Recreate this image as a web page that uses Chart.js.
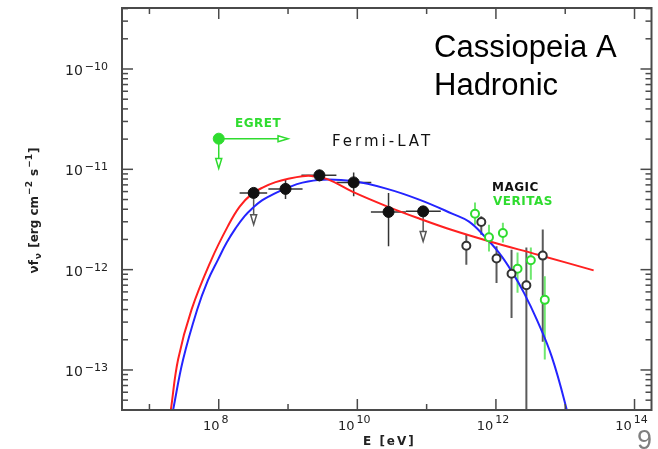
<!DOCTYPE html>
<html>
<head>
<meta charset="utf-8">
<title>Cassiopeia A - Hadronic</title>
<script src="https://cdn.jsdelivr.net/npm/chart.js@4/dist/chart.umd.min.js"></script>
<style>
  html, body { margin: 0; padding: 0; background: #fff; }
  #wrap { position: relative; width: 658px; height: 449px; }
</style>
</head>
<body>
<div id="wrap"><canvas id="sed"></canvas></div>
<script>
// Energies in eV, fluxes as nuF_nu in erg cm^-2 s^-1

// Fermi-LAT points (first and last are upper limits)
const fermiE     = [3.19e8, 9.2e8, 2.84e9, 8.85e9, 2.82e10, 8.91e10];
const fermiF     = [5.82e-12, 6.38e-12, 8.71e-12, 7.41e-12, 3.76e-12, 3.81e-12];
const fermiElo   = [2.0e8, 5.2e8, 1.56e9, 4.99e9, 1.57e10, 5.02e10];
const fermiEhi   = [5.0e8, 1.62e9, 4.99e9, 1.59e10, 5.02e10, 1.60e11];
const fermiFlo   = [null, 5.07e-12, 7.59e-12, 5.38e-12, 1.71e-12, null];
const fermiFhi   = [6.4e-12, 8.03e-12, 9.93e-12, 9.27e-12, 5.82e-12, null];
const fermiLimit = [2.81e-12, null, null, null, null, 1.91e-12];

// MAGIC
const magicE   = [3.74e11, 6.15e11, 1.02e12, 1.68e12, 2.75e12, 4.74e12];
const magicF   = [1.73e-12, 2.99e-12, 1.29e-12, 9.1e-13, 6.98e-13, 1.38e-12];
const magicFlo = [1.12e-12, 2.23e-12, 7.36e-13, 3.30e-13, 1e-14, 1.91e-13];
const magicFhi = [2.23e-12, 3.40e-12, 1.71e-12, 1.58e-12, 1.66e-12, 2.51e-12];

// VERITAS
const veritasE   = [4.99e11, 7.94e11, 1.26e12, 2.05e12, 3.19e12, 5.07e12];
const veritasF   = [3.61e-12, 2.10e-12, 2.32e-12, 1.02e-12, 1.24e-12, 5.0e-13];
const veritasFlo = [2.81e-12, 1.52e-12, 1.86e-12, 5.90e-13, 7.94e-13, 1.27e-13];
const veritasFhi = [4.66e-12, 2.81e-12, 2.94e-12, 1.48e-12, 1.66e-12, 8.58e-13];

// EGRET limit
const egretE   = [1.0e8];
const egretF   = [2.02e-11];
const egretEhi = [1.0e9];
const egretFlo = [1.02e-11];

// pion-decay model curves
const redE  = [1.85e7, 2.04e7, 2.59e7, 4.05e7, 7.85e7, 1.35e8, 2.005e8, 2.985e8, 4.44e8, 6.61e8,
               1.051e9, 1.617e9, 2.179e9, 3.70e9, 8.47e9, 2.614e10, 7.80e10, 2.33e11, 7.93e11,
               4.16e12, 2.57e13];
const redF  = [2.54e-14, 4.02e-14, 1.27e-13, 3.99e-13, 1.26e-12, 2.70e-12, 4.25e-12, 5.66e-12, 6.65e-12, 7.46e-12,
               8.11e-12, 8.55e-12, 8.59e-12, 7.99e-12, 5.99e-12, 4.30e-12, 3.23e-12, 2.48e-12, 1.92e-12,
               1.40e-12, 9.84e-13];
const blueE = [1.94e7, 2.20e7, 3.06e7, 4.88e7, 6.95e7, 9.77e7, 1.304e8, 1.756e8, 2.366e8, 3.19e8,
               4.155e8, 5.42e8, 7.06e8, 9.51e8, 1.617e9, 3.136e9, 8.47e9, 2.614e10, 7.80e10, 2.33e11,
               4.09e11, 6.72e11, 1.105e12, 1.699e12, 2.53e12, 3.89e12, 6.39e12, 1.051e13, 1.20e13];
const blueF = [2.54e-14, 4.02e-14, 1.27e-13, 3.99e-13, 7.77e-13, 1.26e-12, 1.86e-12, 2.59e-12, 3.42e-12, 4.20e-12,
               4.87e-12, 5.40e-12, 5.93e-12, 6.50e-12, 7.37e-12, 7.89e-12, 7.63e-12, 6.42e-12, 4.99e-12, 3.62e-12,
               3.01e-12, 2.18e-12, 1.477e-12, 9.55e-13, 5.90e-13, 3.17e-13, 1.357e-13, 4.02e-14, 2.54e-14];

// axis labels
const xTickExp = [8, 10, 12, 14];
const yTickExp = [-10, -11, -12, -13];

const GREEN = '#2fdc2f';
const pts = (xs, ys) => xs.map((v, i) => ({ x: v, y: ys[i] }));

function seg(ctx, x0, y0, x1, y1) {
  ctx.beginPath();
  ctx.moveTo(x0, y0);
  ctx.lineTo(x1, y1);
  ctx.stroke();
}

// line with an open triangular head at (x1, y1)
function arrow(ctx, x0, y0, x1, y1) {
  const len = Math.hypot(x1 - x0, y1 - y0);
  const ux = (x1 - x0) / len, uy = (y1 - y0) / len;
  const bx = x1 - ux * 10, by = y1 - uy * 10;
  seg(ctx, x0, y0, bx, by);
  ctx.beginPath();
  ctx.moveTo(x1, y1);
  ctx.lineTo(bx - uy * 3, by + ux * 3);
  ctx.lineTo(bx + uy * 3, by - ux * 3);
  ctx.closePath();
  ctx.stroke();
}

// "10" with a raised exponent, drawn on baseline y
function drawPow(ctx, exp, x, y, align, baseSize, expSize, rise) {
  const e = String(exp).replace('-', '\u2212');
  ctx.font = baseSize + 'px "DejaVu Sans"';
  const wb = ctx.measureText('10').width;
  ctx.font = expSize + 'px "DejaVu Sans"';
  const we = ctx.measureText(e).width;
  const gap = 2;
  const total = wb + gap + we;
  const left = align === 'right' ? x - total : x - total / 2;
  ctx.textAlign = 'left';
  ctx.textBaseline = 'alphabetic';
  ctx.font = baseSize + 'px "DejaVu Sans"';
  ctx.fillText('10', left, y);
  ctx.font = expSize + 'px "DejaVu Sans"';
  ctx.fillText(e, left + wb + gap, y - rise);
}

const errorBars = {
  id: 'errorBars',
  beforeDatasetsDraw(chart) {
    const { ctx, chartArea: a, scales: { x, y } } = chart;
    const X = v => x.getPixelForValue(v), Y = v => y.getPixelForValue(v);
    ctx.save();
    ctx.beginPath();
    ctx.rect(a.left, a.top, a.width, a.height);
    ctx.clip();

    ctx.strokeStyle = '#5a5a5a';
    ctx.lineWidth = 2;
    magicE.forEach((e, i) => seg(ctx, X(e), Y(magicFlo[i]), X(e), Y(magicFhi[i])));

    ctx.strokeStyle = '#6fe86f';
    veritasE.forEach((e, i) => seg(ctx, X(e), Y(veritasFlo[i]), X(e), Y(veritasFhi[i])));

    ctx.strokeStyle = '#333';
    ctx.lineWidth = 1.5;
    fermiE.forEach((e, i) => {
      const px = X(e), py = Y(fermiF[i]);
      seg(ctx, X(fermiElo[i]), py, X(fermiEhi[i]), py);
      if (fermiFhi[i] !== null) seg(ctx, px, py, px, Y(fermiFhi[i]));
      if (fermiFlo[i] !== null) seg(ctx, px, py, px, Y(fermiFlo[i]));
    });
    ctx.strokeStyle = '#555';
    fermiE.forEach((e, i) => {
      if (fermiLimit[i] !== null) arrow(ctx, X(e), Y(fermiF[i]), X(e), Y(fermiLimit[i]));
    });

    ctx.strokeStyle = GREEN;
    egretE.forEach((e, i) => {
      arrow(ctx, X(e), Y(egretF[i]), X(egretEhi[i]), Y(egretF[i]));
      arrow(ctx, X(e), Y(egretF[i]), X(e), Y(egretFlo[i]));
    });
    ctx.restore();
  }
};

const frame = {
  id: 'frame',
  afterDraw(chart) {
    const { ctx, chartArea: a, scales: { x, y } } = chart;
    ctx.save();
    ctx.strokeStyle = '#4a4a4a';
    ctx.lineWidth = 1.5;

    // one tick per decade on bottom and top, longer on even powers
    for (let d = 7; d <= 14; d++) {
      const px = x.getPixelForValue(Math.pow(10, d));
      const len = d % 2 === 0 ? 11 : 6;
      seg(ctx, px, a.bottom, px, a.bottom - len);
      seg(ctx, px, a.top, px, a.top + len);
    }
    // logarithmic ticks on left and right
    for (let d = -14; d <= -10; d++) {
      for (let m = 1; m <= 9; m++) {
        const v = m * Math.pow(10, d);
        if (v < y.min || v > y.max) continue;
        const py = y.getPixelForValue(v);
        const len = m === 1 ? 11 : 6;
        seg(ctx, a.left, py, a.left + len, py);
        seg(ctx, a.right, py, a.right - len, py);
      }
    }
    ctx.lineWidth = 2;
    ctx.strokeRect(a.left, a.top, a.right - a.left, a.bottom - a.top);

    // tick labels
    ctx.fillStyle = '#222';
    yTickExp.forEach(d => {
      const py = y.getPixelForValue(Math.pow(10, d));
      drawPow(ctx, d, 108, py + 6, 'right', 14, 11, 5);
    });
    xTickExp.forEach(d => {
      const px = x.getPixelForValue(Math.pow(10, d));
      drawPow(ctx, d, px - 3, 430, 'center', 13, 11, 7);
    });

    // axis titles
    ctx.textAlign = 'left';
    ctx.textBaseline = 'alphabetic';
    ctx.font = 'bold 12px "DejaVu Sans"';
    ctx.letterSpacing = '2px';
    ctx.fillText('E [eV]', 363, 445);
    ctx.letterSpacing = '0px';

    const parts = [
      { t: '\u03BDf', s: 12, dy: 0 },
      { t: '\u03BD', s: 9, dy: 3 },
      { t: ' [erg cm', s: 12, dy: 0 },
      { t: '\u22122', s: 9, dy: -6 },
      { t: ' s', s: 12, dy: 0 },
      { t: '\u22121', s: 9, dy: -6 },
      { t: ']', s: 12, dy: 0 }
    ];
    let total = 0;
    parts.forEach(p => {
      ctx.font = 'bold ' + p.s + 'px "DejaVu Sans"';
      p.w = ctx.measureText(p.t).width + 1;
      total += p.w;
    });
    ctx.save();
    ctx.translate(38, 210);
    ctx.rotate(-Math.PI / 2);
    let cx = -total / 2;
    parts.forEach(p => {
      ctx.font = 'bold ' + p.s + 'px "DejaVu Sans"';
      ctx.fillText(p.t, cx, p.dy);
      cx += p.w;
    });
    ctx.restore();

    // instrument labels
    ctx.font = '15px "DejaVu Sans"';
    ctx.letterSpacing = '3px';
    ctx.fillStyle = '#111';
    ctx.fillText('Fermi-LAT', 332, 146);
    ctx.font = 'bold 12px "DejaVu Sans"';
    ctx.letterSpacing = '0.5px';
    ctx.fillStyle = GREEN;
    ctx.fillText('EGRET', 235, 127);
    ctx.fillStyle = '#111';
    ctx.fillText('MAGIC', 492, 191);
    ctx.fillStyle = GREEN;
    ctx.fillText('VERITAS', 493, 205);
    ctx.letterSpacing = '0px';

    // title block
    ctx.fillStyle = '#000';
    ctx.font = '31px "Liberation Sans"';
    ctx.fillText('Cassiopeia A', 434, 57);
    ctx.fillText('Hadronic', 434, 95);

    ctx.fillStyle = '#7f7f7f';
    ctx.font = '27px "Liberation Sans"';
    ctx.fillText('9', 637, 449);
    ctx.restore();
  }
};

new Chart(document.getElementById('sed'), {
  type: 'scatter',
  data: {
    datasets: [
      {
        label: 'EGRET',
        data: pts(egretE, egretF),
        pointRadius: 5.5,
        backgroundColor: GREEN,
        borderColor: GREEN,
        order: 1
      },
      {
        label: 'Fermi-LAT',
        data: pts(fermiE, fermiF),
        pointRadius: 5.5,
        backgroundColor: '#111',
        borderColor: '#111',
        order: 1
      },
      {
        label: 'MAGIC',
        data: pts(magicE, magicF),
        pointRadius: 4,
        borderWidth: 2,
        backgroundColor: '#fff',
        borderColor: '#333',
        order: 1
      },
      {
        label: 'VERITAS',
        data: pts(veritasE, veritasF),
        pointRadius: 4,
        borderWidth: 2,
        backgroundColor: '#fff',
        borderColor: GREEN,
        order: 1
      },
      {
        label: 'model (red)',
        data: pts(redE, redF),
        showLine: true,
        pointRadius: 0,
        borderColor: '#ff2020',
        borderWidth: 2,
        tension: 0.4,
        clip: 0,
        order: 3
      },
      {
        label: 'model (blue)',
        data: pts(blueE, blueF),
        showLine: true,
        pointRadius: 0,
        borderColor: '#2424ff',
        borderWidth: 2,
        tension: 0.4,
        clip: 0,
        order: 3
      }
    ]
  },
  options: {
    responsive: true,
    maintainAspectRatio: false,
    animation: false,
    devicePixelRatio: 1,
    layout: { padding: { left: 122, top: 8, right: 5, bottom: 39 } },
    scales: {
      x: { type: 'logarithmic', min: Math.pow(10, 6.604), max: Math.pow(10, 14.245), display: false },
      y: { type: 'logarithmic', min: Math.pow(10, -13.399), max: Math.pow(10, -9.392), display: false }
    },
    plugins: {
      legend: { display: false },
      tooltip: { enabled: false }
    }
  },
  plugins: [errorBars, frame]
});
</script>
</body>
</html>
